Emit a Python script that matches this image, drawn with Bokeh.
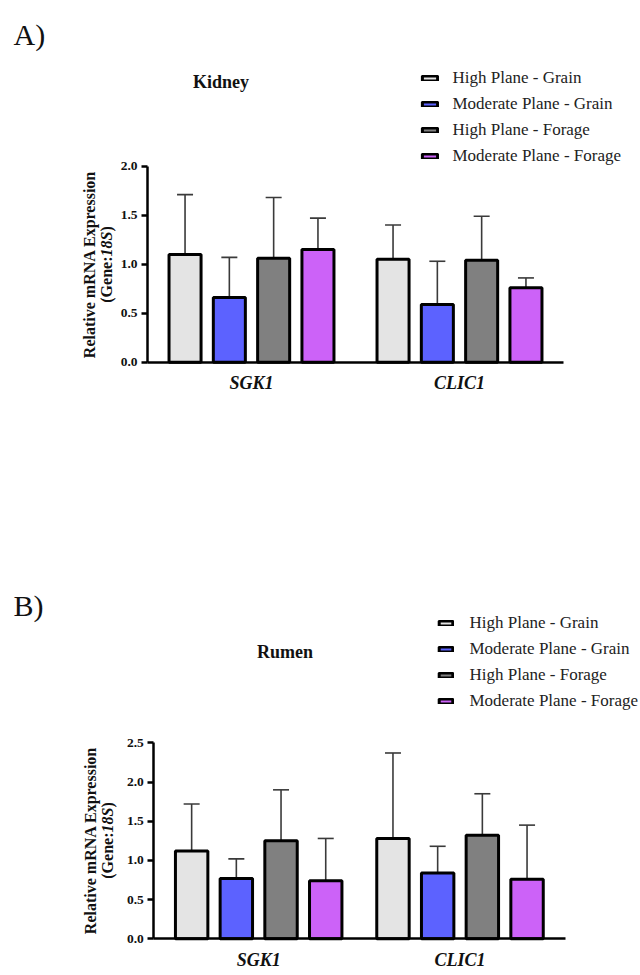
import numpy as np
from bokeh.plotting import figure
from bokeh.models import (ColumnDataSource, Range1d, FixedTicker, Label, Legend,
                          LegendItem, Whisker, TeeHead, NumeralTickFormatter)
from bokeh.layouts import column
from bokeh.embed import file_html
from bokeh.resources import INLINE

# ---------------- data ----------------
genes = ["SGK1", "CLIC1"]
groups = ["High Plane - Grain", "Moderate Plane - Grain",
          "High Plane - Forage", "Moderate Plane - Forage"]
colors = ["#e4e4e4", "#5c62ff", "#808080", "#cc62f8"]

# Kidney: mean per group (SGK1, CLIC1) and error-bar size
kidney_high_grain = [1.10, 1.05]
kidney_mod_grain = [0.66, 0.59]
kidney_high_forage = [1.06, 1.04]
kidney_mod_forage = [1.15, 0.76]
kidney_high_grain_err = [0.61, 0.35]
kidney_mod_grain_err = [0.41, 0.44]
kidney_high_forage_err = [0.62, 0.45]
kidney_mod_forage_err = [0.32, 0.10]

# Rumen
rumen_high_grain = [1.12, 1.28]
rumen_mod_grain = [0.77, 0.84]
rumen_high_forage = [1.25, 1.32]
rumen_mod_forage = [0.74, 0.76]
rumen_high_grain_err = [0.60, 1.09]
rumen_mod_grain_err = [0.25, 0.34]
rumen_high_forage_err = [0.65, 0.53]
rumen_mod_forage_err = [0.54, 0.69]

kidney_ticks = [0.0, 0.5, 1.0, 1.5, 2.0]
rumen_ticks = [0.0, 0.5, 1.0, 1.5, 2.0, 2.5]

SERIF = "Liberation Serif"
PAGE_X0 = 0
W = 640


def make_panel(cfg):
    H = cfg["H"]
    top = cfg["page_top"]
    # axis anchor pixels (page coords) -> ranges so the frame covers the whole figure
    ax0, ax1 = cfg["axis_px"]          # page x of axis start / end
    xa0, xa1 = cfg["xbounds"]          # data x at those pixels
    kx = (ax1 - ax0) / (xa1 - xa0)
    y0px, ytpx = cfg["axis_py"]        # page y of 0 and of ymax
    ymax = cfg["ymax"]
    ky = (y0px - ytpx) / ymax
    xs = xa0 - (ax0 - PAGE_X0) / kx
    xe = xa1 + (PAGE_X0 + W - ax1) / kx
    ys = -(top + H - y0px) / ky
    ye = (y0px - top) / ky

    p = figure(width=W, height=H, output_backend="svg", toolbar_location=None,
               x_range=Range1d(xs, xe), y_range=Range1d(ys, ye),
               min_border_left=0, min_border_right=0,
               min_border_top=0, min_border_bottom=0)
    p.xgrid.visible = False
    p.ygrid.visible = False
    p.outline_line_color = None
    p.background_fill_color = "white"
    p.border_fill_color = "white"

    def sx(px):
        return px - PAGE_X0

    def sy(py):
        return (top + H) - py

    step, bw = cfg["step"], cfg["bw"]
    offsets = [-1.5, -0.5, 0.5, 1.5]
    gi = list(range(len(genes)))
    items = []
    for k, (name, col) in enumerate(zip(groups, colors)):
        means = cfg["means"][k]
        errs = cfg["errs"][k]
        src = ColumnDataSource(dict(
            x=[g + offsets[k] * step for g in gi],
            mean=means,
            upper=[m + e for m, e in zip(means, errs)],
        ))
        wh = Whisker(source=src, base="x", lower="mean", upper="upper",
                     dimension="height", line_color="#3a3a3a", line_width=1.6,
                     upper_head=TeeHead(size=16, line_color="#3a3a3a", line_width=1.6),
                     lower_head=None)
        p.add_layout(wh)
        r = p.vbar(x="x", top="mean", width=bw, bottom=0, source=src,
                   fill_color=col, line_color="black", line_width=3)
        items.append(LegendItem(label=name, renderers=[r]))

    # axes (drawn at fixed data locations inside the full-size frame)
    xa = p.xaxis[0]
    xa.fixed_location = 0
    xa.bounds = (xa0, xa1)
    xa.ticker = FixedTicker(ticks=gi)
    xa.major_label_overrides = {i: g for i, g in enumerate(genes)}
    xa.major_tick_line_color = None
    xa.minor_tick_line_color = None
    xa.axis_line_width = 2.5
    xa.axis_line_color = "black"
    xa.major_label_text_font = SERIF
    xa.major_label_text_font_style = "bold italic"
    xa.major_label_text_font_size = "18px"
    xa.major_label_text_color = "#111111"
    xa.major_label_standoff = 5

    ya = p.yaxis[0]
    ya.fixed_location = xa0
    ya.bounds = (0, ymax)
    ya.ticker = FixedTicker(ticks=cfg["ticks"])
    ya.formatter = NumeralTickFormatter(format="0.0")
    ya.minor_tick_line_color = None
    ya.major_tick_in = 0
    ya.major_tick_out = 6
    ya.major_tick_line_width = 2.5
    ya.axis_line_width = 2.5
    ya.major_label_text_font = SERIF
    ya.major_label_text_font_style = "bold"
    ya.major_label_text_font_size = "13.5px"
    ya.major_label_text_color = "#111111"
    ya.major_label_standoff = 4

    # legend
    lg = cfg["legend"]
    legend = Legend(items=items, location=(float(sx(lg["left"])), float(sy(lg["bottom"]))),
                    orientation="vertical", glyph_width=lg["gw"], glyph_height=lg["gh"],
                    label_standoff=lg["standoff"], spacing=6, padding=0, margin=0,
                    label_height=20, border_line_color=None, background_fill_alpha=0,
                    label_text_font=SERIF, label_text_font_size="17px",
                    label_text_color="#222222", label_text_baseline="middle")
    p.add_layout(legend)

    # panel letter & title
    p.add_layout(Label(x=sx(13), y=sy(cfg["letter_y"]), x_units="screen", y_units="screen",
                       text=cfg["letter"], text_font=SERIF, text_font_size="30px",
                       text_color="#111111", text_align="left", text_baseline="alphabetic"))
    p.add_layout(Label(x=sx(cfg["title_x"]), y=sy(cfg["title_y"]), x_units="screen",
                       y_units="screen", text=cfg["title"], text_font=SERIF,
                       text_font_size="18px", text_font_style="bold", text_color="#111111",
                       text_align="center", text_baseline="alphabetic"))

    # y-axis title (rotated, two lines, with italic 18S)
    cy = cfg["ylab_cy"]
    p.add_layout(Label(x=sx(cfg["ylab_x1"]), y=sy(cy), x_units="screen", y_units="screen",
                       text="Relative mRNA Expression", angle=np.pi / 2,
                       text_font=SERIF, text_font_size="16px", text_font_style="bold",
                       text_color="#111111", text_align="center", text_baseline="middle"))
    fs = 16.0
    w1 = 2.888 * fs
    w2 = 1.556 * fs
    total = w1 + w2 + 0.333 * fs
    start = cy + total / 2
    pieces = [("(Gene:", "bold", start),
              ("18S", "bold italic", start - w1),
              (")", "bold", start - w1 - w2)]
    for txt, style, py in pieces:
        p.add_layout(Label(x=sx(cfg["ylab_x2"]), y=sy(py), x_units="screen", y_units="screen",
                           text=txt, angle=np.pi / 2, text_font=SERIF, text_font_size="16px",
                           text_font_style=style, text_color="#111111",
                           text_align="left", text_baseline="middle"))
    return p


kidney_cfg = dict(
    H=488, page_top=0,
    axis_px=(147, 563), xbounds=(-0.5, 1.5), axis_py=(361.7, 165.7), ymax=2.0,
    ticks=kidney_ticks, step=0.213, bw=0.154,
    means=[kidney_high_grain, kidney_mod_grain, kidney_high_forage, kidney_mod_forage],
    errs=[kidney_high_grain_err, kidney_mod_grain_err, kidney_high_forage_err, kidney_mod_forage_err],
    legend=dict(left=419.5, bottom=165.7, gw=19, gh=6, standoff=14),
    letter="A)", letter_y=34, title="Kidney", title_x=220.5, title_y=81.7,
    ylab_cy=264, ylab_x1=89, ylab_x2=106,
)

rumen_cfg = dict(
    H=487, page_top=488,
    axis_px=(153.3, 565), xbounds=(-0.521, 1.524), axis_py=(938.3, 742.3), ymax=2.5,
    ticks=rumen_ticks, step=0.222, bw=0.161,
    means=[rumen_high_grain, rumen_mod_grain, rumen_high_forage, rumen_mod_forage],
    errs=[rumen_high_grain_err, rumen_mod_grain_err, rumen_high_forage_err, rumen_mod_forage_err],
    legend=dict(left=436.5, bottom=711.3, gw=17, gh=6, standoff=16),
    letter="B)", letter_y=605, title="Rumen", title_x=284.5, title_y=651,
    ylab_cy=840, ylab_x1=90, ylab_x2=107,
)

pA = make_panel(kidney_cfg)
pB = make_panel(rumen_cfg)
layout = column(pA, pB, spacing=0)

open("out.html", "w").write(file_html(layout, INLINE))
